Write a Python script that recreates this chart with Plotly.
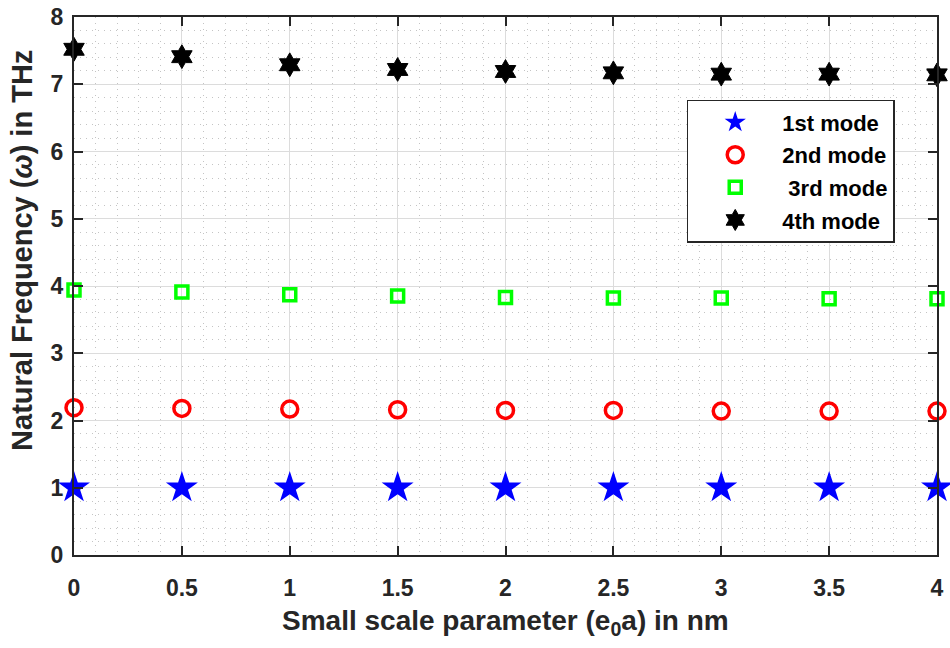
import plotly.graph_objects as go

x_vals = [0, 0.5, 1, 1.5, 2, 2.5, 3, 3.5, 4]
mode1 = [1.0, 1.0, 1.0, 1.0, 1.0, 1.0, 1.0, 1.0, 1.0]
mode2 = [2.19, 2.18, 2.17, 2.16, 2.15, 2.15, 2.14, 2.14, 2.14]
mode3 = [3.94, 3.91, 3.87, 3.85, 3.83, 3.82, 3.82, 3.81, 3.81]
mode4 = [7.52, 7.41, 7.29, 7.22, 7.19, 7.17, 7.15, 7.15, 7.14]
names = ["1st mode", "2nd mode", " 3rd mode", "4th mode"]
x_ticks = [0, 0.5, 1, 1.5, 2, 2.5, 3, 3.5, 4]
y_ticks = [0, 1, 2, 3, 4, 5, 6, 7, 8]
x_title = "Small scale parameter (e<sub>0</sub>a) in nm"
y_title = "Natural Frequency (<i>ω</i>) in THz"

FONT = "Liberation Sans"

fig = go.Figure()
fig.add_trace(go.Scatter(x=x_vals, y=mode1, mode="markers", name=names[0], cliponaxis=False, legendgroup="a",
                         marker=dict(symbol="star", size=24, color="#0000ff", line=dict(width=0))))
fig.add_trace(go.Scatter(x=x_vals, y=mode2, mode="markers", name=names[1], cliponaxis=False, legendgroup="b",
                         marker=dict(symbol="circle-open", size=16, color="#ff0000", line=dict(width=3.5, color="#ff0000"))))
fig.add_trace(go.Scatter(x=x_vals, y=mode3, mode="markers", name=names[2], cliponaxis=False, legendgroup="c",
                         marker=dict(symbol="square-open", size=12, color="#00ff00", line=dict(width=3.5, color="#00ff00"))))
fig.add_trace(go.Scatter(x=x_vals, y=mode4, mode="markers", name=names[3], cliponaxis=False, legendgroup="d",
                         marker=dict(symbol="hexagram", size=18, color="#000000", line=dict(width=1, color="#000000"))))

axis_common = dict(
    showline=True, linecolor="#262626", linewidth=2, mirror="ticks",
    ticks="inside", ticklen=9, tickwidth=2, tickcolor="#262626",
    showgrid=True, gridcolor="#dcdcdc", gridwidth=1,
    zeroline=False, automargin=False, ticklabeloverflow="allow",
    tickfont=dict(family=FONT, size=23, color="#262626", weight="bold"),
)

fig.update_xaxes(
    range=[0, 4], tickvals=x_ticks, ticktext=[str(v) for v in x_ticks],
    minor=dict(dtick=0.1, showgrid=True, gridcolor="#c4c4c4", griddash="1px,5px", gridwidth=1, ticks=""),
    ticklabelstandoff=11,
    **axis_common,
)
fig.update_yaxes(
    range=[0, 8], tickvals=y_ticks, ticktext=[str(v) for v in y_ticks],
    minor=dict(dtick=0.2, showgrid=True, gridcolor="#c4c4c4", griddash="1px,5px", gridwidth=1, ticks=""),
    ticklabelstandoff=4,
    **axis_common,
)

fig.add_annotation(text=x_title, xref="paper", yref="paper", x=0.5, y=-0.125,
                   xanchor="center", yanchor="middle", showarrow=False,
                   font=dict(family=FONT, size=28, color="#262626", weight="bold"))
fig.add_annotation(text=y_title, xref="paper", yref="paper", x=-0.0603, y=0.567,
                   xanchor="center", yanchor="middle", showarrow=False, textangle=-90,
                   font=dict(family=FONT, size=29, color="#262626", weight="bold"))

fig.update_layout(
    width=950, height=648,
    margin=dict(l=74, r=13, t=17, b=93),
    plot_bgcolor="white", paper_bgcolor="white",
    legend=dict(
        x=0.710, y=0.846, xanchor="left", yanchor="top",
        bgcolor="white", bordercolor="#262626", borderwidth=1.5,
        font=dict(family=FONT, size=22, color="#000000", weight="bold"),
        itemsizing="trace", tracegroupgap=1, itemwidth=84,
    ),
)

fig.write_html("out.html", config={"displayModeBar": False},
               post_script="document.body.style.margin='0';document.body.style.overflow='hidden';")
